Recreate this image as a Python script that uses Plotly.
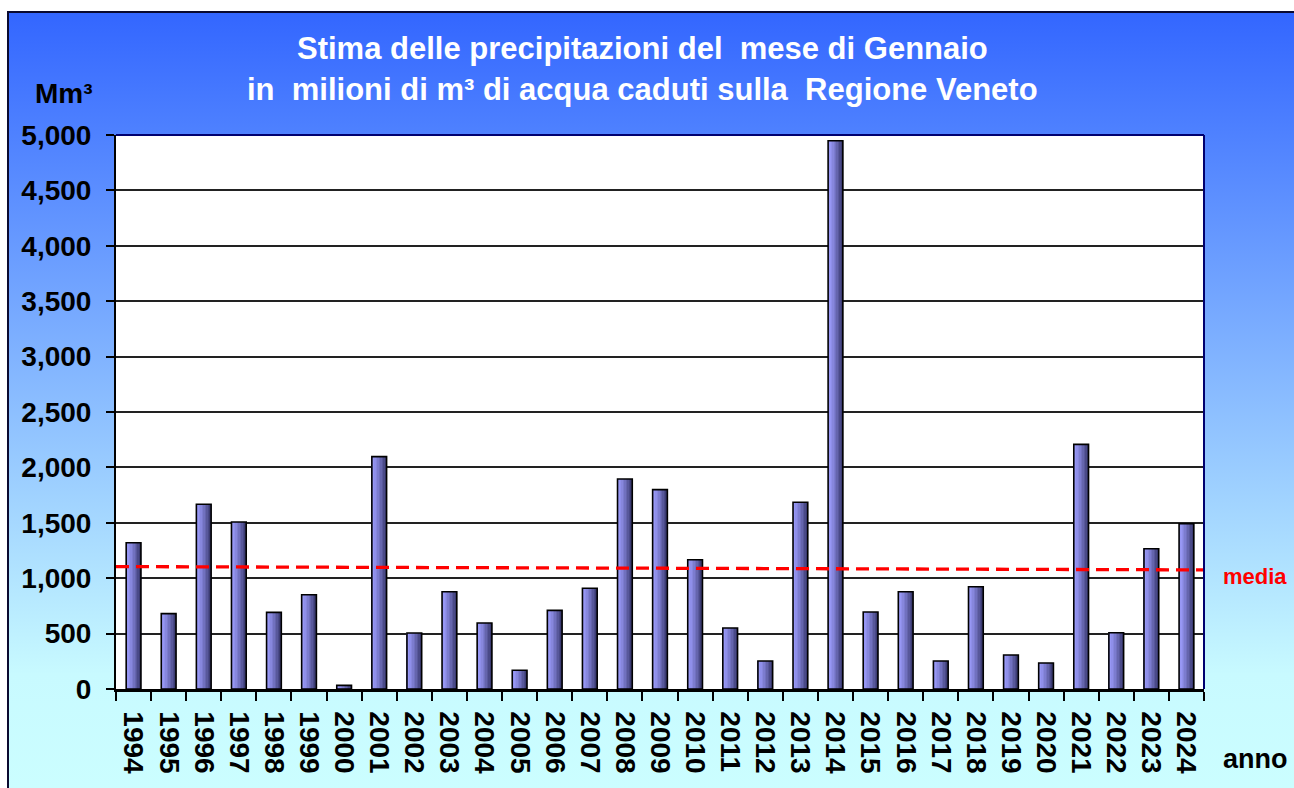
import base64
import plotly.graph_objects as go

# ---------------- data ----------------
years = ["1994", "1995", "1996", "1997", "1998", "1999", "2000", "2001", "2002", "2003",
         "2004", "2005", "2006", "2007", "2008", "2009", "2010", "2011", "2012", "2013",
         "2014", "2015", "2016", "2017", "2018", "2019", "2020", "2021", "2022", "2023", "2024"]
volumes = [1320, 680, 1667, 1507, 692, 851, 33, 2097, 505, 878,
           596, 169, 710, 909, 1895, 1799, 1167, 551, 253, 1685,
           4948, 695, 878, 253, 923, 307, 235, 2208, 508, 1266, 1492]
media_values = [1105, 1075]  # start / end of the "media" line
y_ticks = [0, 500, 1000, 1500, 2000, 2500, 3000, 3500, 4000, 4500, 5000]

title_line1 = "Stima delle precipitazioni del  mese di Gennaio"
title_line2 = "in  milioni di m³ di acqua caduti sulla  Regione Veneto"

# ---------------- figure geometry ----------------
W, H = 1294, 788
PL, PR, PT, PB = 116, 1204, 135, 689

def px(x):
    return x / W

def py(y):
    return 1 - y / H

FONT = "Liberation Sans, Arial, sans-serif"

# background gradient as an SVG image
svg = f'''<svg xmlns="http://www.w3.org/2000/svg" width="{W}" height="{H}" viewBox="0 0 {W} {H}" preserveAspectRatio="none">
<defs><linearGradient id="g" x1="0" y1="0" x2="0" y2="1">
<stop offset="0" stop-color="#3366FF"/>
<stop offset="0.82" stop-color="#C8FAFF"/>
<stop offset="1" stop-color="#CCFFFF"/>
</linearGradient></defs>
<rect x="0" y="0" width="{W}" height="{H}" fill="#FFFFFF"/>
<rect x="8" y="12" width="{W + 20}" height="{H + 20}" fill="url(#g)" stroke="#0A0A30" stroke-width="2"/>
</svg>'''
svg_uri = "data:image/svg+xml;base64," + base64.b64encode(svg.encode()).decode()

fig = go.Figure()

# bars with a left-to-right shading built from narrow strips
bar_w = 0.42
n_strips = 10
c_light = (155, 155, 250)
c_dark = (60, 60, 115)
for i in range(n_strips):
    t = (i / (n_strips - 1)) ** 1.4
    col = tuple(round(c_light[k] + (c_dark[k] - c_light[k]) * t) for k in range(3))
    fig.add_trace(go.Bar(
        x=years, y=volumes,
        width=bar_w / n_strips * 1.2,
        offset=-bar_w / 2 + i * bar_w / n_strips,
        marker=dict(color=f"rgb{col}", line=dict(width=0)),
        hoverinfo="skip", showlegend=False,
    ))
# outline
fig.add_trace(go.Bar(
    x=years, y=volumes, width=bar_w,
    marker=dict(color="rgba(0,0,0,0)", line=dict(color="black", width=1.6)),
    showlegend=False, name="Mm3",
))

shapes = [
    dict(type="rect", xref="x domain", yref="y domain", x0=0, x1=1, y0=0, y1=1,
         fillcolor="white", line=dict(width=0), layer="below"),
    dict(type="line", xref="x", yref="y", x0=-0.5, x1=len(years) - 0.5,
         y0=media_values[0], y1=media_values[1],
         line=dict(color="#FF0000", width=3.3, dash="13px,7px"), layer="above"),
    dict(type="line", xref="x domain", yref="y domain", x0=0, x1=1, y0=1, y1=1,
         line=dict(color="#000070", width=2), layer="above"),
    dict(type="line", xref="x domain", yref="y domain", x0=1, x1=1, y0=0, y1=1,
         line=dict(color="#000070", width=2), layer="above"),
]

annotations = [
    dict(text=title_line1, x=px(642), y=py(49), xref="paper", yref="paper",
         xanchor="center", yanchor="middle", showarrow=False,
         font=dict(family=FONT, size=31, color="white", weight="bold")),
    dict(text=title_line2, x=px(642), y=py(89), xref="paper", yref="paper",
         xanchor="center", yanchor="middle", showarrow=False,
         font=dict(family=FONT, size=31, color="white", weight="bold")),
    dict(text="Mm³", x=px(33), y=py(93), xref="paper", yref="paper",
         xanchor="left", yanchor="middle", showarrow=False,
         font=dict(family=FONT, size=28, color="black", weight="bold")),
    dict(text="media", x=px(1221), y=py(576), xref="paper", yref="paper",
         xanchor="left", yanchor="middle", showarrow=False,
         font=dict(family=FONT, size=22, color="#FF0000", weight="bold")),
    dict(text="anno", x=px(1221), y=py(759), xref="paper", yref="paper",
         xanchor="left", yanchor="middle", showarrow=False,
         font=dict(family=FONT, size=27, color="black", weight="bold")),
]

fig.update_layout(
    template="none",
    width=W, height=H,
    margin=dict(l=0, r=0, t=0, b=0, pad=0),
    paper_bgcolor="white",
    plot_bgcolor="rgba(0,0,0,0)",
    barmode="overlay",
    showlegend=False,
    images=[dict(source=svg_uri, xref="paper", yref="paper", x=0, y=1,
                 sizex=1, sizey=1, xanchor="left", yanchor="top",
                 sizing="stretch", layer="below")],
    shapes=shapes,
    annotations=annotations,
    xaxis=dict(
        type="category", domain=[px(PL), px(PR)], range=[-0.5, len(years) - 0.5],
        automargin=False, showgrid=False, zeroline=False,
        showline=True, linecolor="black", linewidth=2.5,
        ticks="outside", tickson="boundaries", ticklen=9, tickwidth=1.5, tickcolor="black",
        tickangle=90, ticklabelstandoff=14,
        tickfont=dict(family=FONT, size=28, color="black", weight="bold"),
    ),
    yaxis=dict(
        domain=[py(PB), py(PT)], range=[0, 5000], automargin=False,
        tickmode="array", tickvals=y_ticks, tickformat=",",
        showgrid=True, gridcolor="#222222", gridwidth=1.5, zeroline=False,
        showline=True, linecolor="black", linewidth=2,
        ticks="outside", ticklen=8, tickwidth=1.5, tickcolor="black",
        ticklabelstandoff=9,
        tickfont=dict(family=FONT, size=28, color="black", weight="bold"),
    ),
)

fig.write_html(
    "out.html",
    config={"displayModeBar": False},
    post_script="document.body.style.margin='0';document.body.style.overflow='hidden';"
                "document.documentElement.style.overflow='hidden';",
)
